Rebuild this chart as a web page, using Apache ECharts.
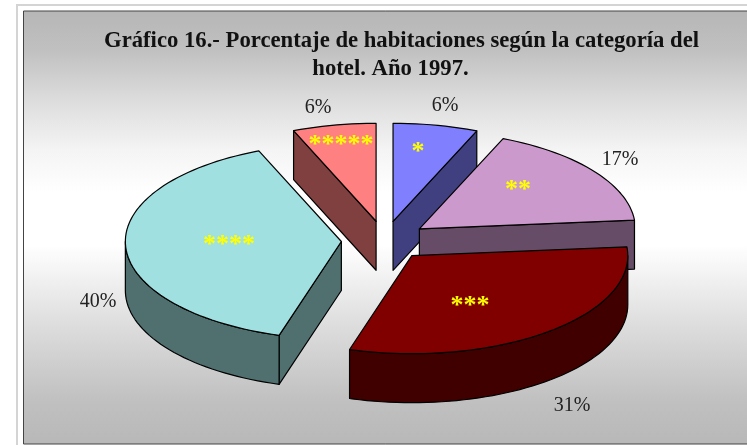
<!DOCTYPE html>
<html lang="es">
<head>
    <meta charset="UTF-8">
    <title>Gráfico 16</title>
    <script src="https://cdn.jsdelivr.net/npm/echarts@6/dist/echarts.min.js"></script>
</head>
<style>
    html, body { margin: 0; padding: 0; background: #fff; }
    #container { width: 747px; height: 445px; }
</style>
<body>
<div id="container"></div>
<script>
    // datos (las etiquetas redondean a 6, 17, 31, 40, 6)
    const categories = ['*', '**', '***', '****', '*****'];
    const shares = [6.4, 17.4, 31.4, 39.5, 6.3];
    const titleLines = ['Gráfico 16.- Porcentaje de habitaciones según la categoría del', 'hotel. Año 1997.'];

    const topColors = ['#8080ff', '#cc99cc', '#800000', '#a0e0e0', '#ff8080'];
    const sideColors = ['#404080', '#664c66', '#400000', '#507070', '#804040'];
    const drawOrder = [1, 2, 4, 3, 1];
    const percentPos = [[445, 106], [620, 160], [572, 406], [98, 302], [318, 108]];
    const starPos = [[418, 152], [518, 190], [470, 306], [229, 245], [341, 145]];

    const cx = 384.5, cy = 240.5, rx = 216, ry = 98, depth = 49, explode = 0.2;
    const total = shares.reduce((a, b) => a + b, 0);

    function rad(d) { return d * Math.PI / 180; }

    function renderSlice(params, api)
    {
        const i = params.dataIndex;
        let before = 0;
        for (let k = 0; k < i; ++k) before += shares[k];
        const start = before / total * 360;
        const end = (before + api.value(0)) / total * 360;
        const mid = (start + end) / 2;
        const ax = cx + explode * rx * Math.sin(rad(mid));
        const ay = cy - explode * ry * Math.cos(rad(mid));
        const rim = (d) => [ax + rx * Math.sin(rad(d)), ay - ry * Math.cos(rad(d))];
        const down = (p) => [p[0], p[1] + depth];
        const z = drawOrder[i] * 10;
        const lineStyle = { stroke: '#000', lineWidth: 1.2, lineJoin: 'round' };
        const children = [];

        function face(points, fill, z2)
        {
            children.push({
                type: 'polygon',
                shape: { points: points },
                style: Object.assign({ fill: fill }, lineStyle),
                z2: z + z2
            });
        }

        // caras de corte visibles
        if (Math.sin(rad(start)) < -1e-6)
        {
            const p = rim(start);
            face([[ax, ay], p, down(p), down([ax, ay])], sideColors[i], 0);
        }
        if (Math.sin(rad(end)) > 1e-6)
        {
            const p = rim(end);
            face([[ax, ay], p, down(p), down([ax, ay])], sideColors[i], 0);
        }

        // pared exterior (solo la parte delantera)
        const a1 = Math.max(start, 90), a2 = Math.min(end, 270);
        if (a2 > a1)
        {
            const upper = [], lower = [];
            for (let d = a1; d < a2; d += 2) upper.push(rim(d));
            upper.push(rim(a2));
            for (let j = upper.length - 1; j >= 0; --j) lower.push(down(upper[j]));
            face(upper.concat(lower), sideColors[i], 1);
        }

        // cara superior
        const top = [[ax, ay]];
        for (let d = start; d < end; d += 2) top.push(rim(d));
        top.push(rim(end));
        face(top, topColors[i], 2);

        children.push({
            type: 'text',
            z2: 100,
            style: {
                x: starPos[i][0], y: starPos[i][1],
                text: categories[i],
                fill: '#ffff00',
                font: 'bold 26px "Liberation Serif"',
                align: 'center', verticalAlign: 'middle'
            }
        });
        children.push({
            type: 'text',
            z2: 100,
            style: {
                x: percentPos[i][0], y: percentPos[i][1],
                text: Math.round(api.value(0)) + '%',
                fill: '#222',
                font: '20px "Liberation Serif"',
                align: 'center', verticalAlign: 'middle'
            }
        });
        return { type: 'group', children: children };
    }

    const titleStyle = {
        fontFamily: 'Liberation Serif',
        fontWeight: 'bold',
        fontSize: 22.7,
        color: '#111'
    };

    var chart = echarts.init(document.getElementById('container'));
    var option =
        {
            animation: false,
            backgroundColor: '#fff',
            title: [
                { text: titleLines[0], left: 401.5, top: 30, padding: 0, textAlign: 'center', textStyle: titleStyle },
                { text: titleLines[1], left: 390.5, top: 58, padding: 0, textAlign: 'center', textStyle: titleStyle }
            ],
            graphic: [
                {
                    type: 'rect',
                    z: -2,
                    shape: { x: 17, y: 5, width: 800, height: 500 },
                    style: { fill: '#fff', stroke: '#d4d4d4', lineWidth: 2 }
                },
                {
                    type: 'rect',
                    z: -1,
                    shape: { x: 23.5, y: 11, width: 800, height: 433 },
                    style: {
                        stroke: '#444',
                        lineWidth: 1,
                        fill: {
                            type: 'linear', x: 0, y: 0, x2: 0, y2: 1,
                            colorStops: [
                                { offset: 0, color: '#b6b6b6' },
                                { offset: 0.09, color: '#c0c0c0' },
                                { offset: 0.205, color: '#dcdcdc' },
                                { offset: 0.32, color: '#f4f4f4' },
                                { offset: 0.42, color: '#ffffff' },
                                { offset: 0.54, color: '#ffffff' },
                                { offset: 0.72, color: '#dedede' },
                                { offset: 0.9, color: '#c0c0c0' },
                                { offset: 1, color: '#b8b8b8' }
                            ]
                        }
                    }
                }
            ],
            series: [
                {
                    type: 'custom',
                    coordinateSystem: 'none',
                    renderItem: renderSlice,
                    data: shares
                }
            ]
        };
    chart.setOption(option);
</script>
</body>
</html>
